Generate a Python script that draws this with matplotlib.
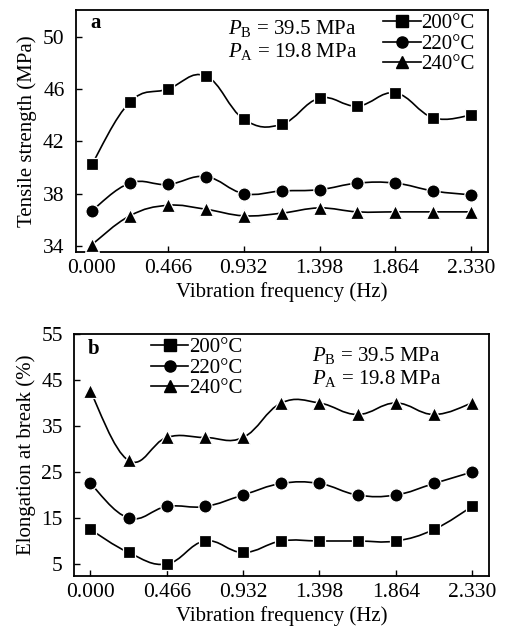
import numpy as np
import matplotlib
matplotlib.use("Agg")
import matplotlib.pyplot as plt
from matplotlib.path import Path
from matplotlib.patches import PathPatch
from matplotlib.lines import Line2D

plt.rcParams['font.family'] = ['Liberation Serif', 'DejaVu Serif']
plt.rcParams['mathtext.fontset'] = 'custom'
plt.rcParams['mathtext.rm'] = 'Liberation Serif'
plt.rcParams['mathtext.it'] = 'Liberation Serif:italic'
plt.rcParams['mathtext.bf'] = 'Liberation Serif:bold'

# ---------------- data ----------------
freq = [0.000, 0.233, 0.466, 0.699, 0.932, 1.165, 1.398, 1.631, 1.864, 2.097, 2.330]
xtick_vals = [0.000, 0.466, 0.932, 1.398, 1.864, 2.330]
xtick_labels = ["0.000", "0.466", "0.932", "1.398", "1.864", "2.330"]
series_labels = ["200°C", "220°C", "240°C"]
series_markers = ["s", "o", "^"]

tensile_200 = [40.25, 45.0, 46.0, 47.0, 43.7, 43.3, 45.3, 44.7, 45.7, 43.8, 44.0]
tensile_220 = [36.7, 38.8, 38.7, 39.3, 38.0, 38.2, 38.3, 38.8, 38.8, 38.2, 37.9]
tensile_240 = [34.1, 36.3, 37.1, 36.8, 36.3, 36.5, 36.9, 36.6, 36.6, 36.6, 36.6]
tensile_yticks = [34, 38, 42, 46, 50]

elong_200 = [12.5, 7.5, 5.0, 10.0, 7.5, 10.0, 10.0, 10.0, 10.0, 12.5, 17.5]
elong_220 = [22.5, 15.0, 17.5, 17.5, 20.0, 22.5, 22.5, 20.0, 20.0, 22.5, 25.0]
elong_240 = [42.5, 27.5, 32.5, 32.5, 32.5, 40.0, 40.0, 37.5, 40.0, 37.5, 40.0]
elong_yticks = [5, 15, 25, 35, 45, 55]

FS = 15
TFS = 15.5


def smooth_patch(x, y, s=1.2):
    x = np.asarray(x, float)
    y = np.asarray(y, float)
    n = len(x)
    verts = [(x[0], y[0])]
    codes = [Path.MOVETO]
    for i in range(n - 1):
        ip = max(i - 1, 0)
        inx = min(i + 2, n - 1)
        c1 = (x[i] + s * (x[i + 1] - x[ip]) / 6, y[i] + s * (y[i + 1] - y[ip]) / 6)
        c2 = (x[i + 1] - s * (x[inx] - x[i]) / 6, y[i + 1] - s * (y[inx] - y[i]) / 6)
        verts += [c1, c2, (x[i + 1], y[i + 1])]
        codes += [Path.CURVE4] * 3
    return PathPatch(Path(verts, codes), facecolor='none', edgecolor='black', lw=1.2, zorder=2)


def style_axes(ax, ylim, yticks, ylabel):
    ax.set_xlim(-0.10, 2.435)
    ax.set_ylim(*ylim)
    ax.set_xticks(xtick_vals)
    ax.set_xticklabels(xtick_labels)
    ax.set_yticks(yticks)
    ax.tick_params(direction='in', length=4, width=1.0, labelsize=TFS,
                   top=False, right=False)
    ax.tick_params(axis='x', pad=5)
    ax.tick_params(axis='y', pad=8)
    for sp in ax.spines.values():
        sp.set_linewidth(1.3)
    ax.set_xlabel("Vibration frequency (Hz)", fontsize=FS, labelpad=3)
    ax.set_ylabel(ylabel, fontsize=FS, labelpad=4)


def draw_series(ax, ys):
    for yv, mk in zip(ys, series_markers):
        ax.add_patch(smooth_patch(freq, yv))
        ms = 9 if mk != 'o' else 9.5
        if mk == '^':
            ms = 10
        ax.plot(freq, yv, linestyle='none', marker=mk, ms=ms, mfc='black',
                mec='white', mew=0.9, zorder=3)


def add_legend(ax, anchor):
    handles = []
    for mk in series_markers:
        ms = 8 if mk != '^' else 9
        handles.append(Line2D([0], [0], color='black', lw=1.2, marker=mk, ms=ms,
                              mfc='black', mec='black'))
    ax.legend(handles, series_labels, loc='upper left', bbox_to_anchor=anchor,
              frameon=False, fontsize=FS, handlelength=1.8, handletextpad=0.05,
              labelspacing=0.05, borderpad=0, borderaxespad=0)


fig = plt.figure(figsize=(5.09, 6.29), dpi=100)
ax1 = fig.add_axes([0.1487, 0.5998, 0.8106, 0.3843])
ax2 = fig.add_axes([0.1454, 0.0847, 0.8159, 0.3843])

# panel a
draw_series(ax1, [tensile_200, tensile_220, tensile_240])
style_axes(ax1, (33.55, 52.05), tensile_yticks, "Tensile strength (MPa)")
add_legend(ax1, (0.745, 0.985))
ax1.text(0.035, 0.924, "a", transform=ax1.transAxes, fontsize=FS, fontweight='bold',
         va='baseline', ha='left')
ax1.text(0.369, 0.899, r"$P_{\mathrm{B}}$ = 39.5 MPa", transform=ax1.transAxes,
         fontsize=FS, va='baseline', ha='left')
ax1.text(0.369, 0.807, r"$P_{\mathrm{A}}$ = 19.8 MPa", transform=ax1.transAxes,
         fontsize=FS, va='baseline', ha='left')

# panel b
draw_series(ax2, [elong_200, elong_220, elong_240])
style_axes(ax2, (2.45, 55), elong_yticks, "Elongation at break (%)")
add_legend(ax2, (0.185, 0.985))
ax2.text(0.034, 0.916, "b", transform=ax2.transAxes, fontsize=FS, fontweight='bold',
         va='baseline', ha='left')
ax2.text(0.572, 0.89, r"$P_{\mathrm{B}}$ = 39.5 MPa", transform=ax2.transAxes,
         fontsize=FS, va='baseline', ha='left')
ax2.text(0.572, 0.793, r"$P_{\mathrm{A}}$ = 19.8 MPa", transform=ax2.transAxes,
         fontsize=FS, va='baseline', ha='left')

fig.savefig("out.png", dpi=100)
